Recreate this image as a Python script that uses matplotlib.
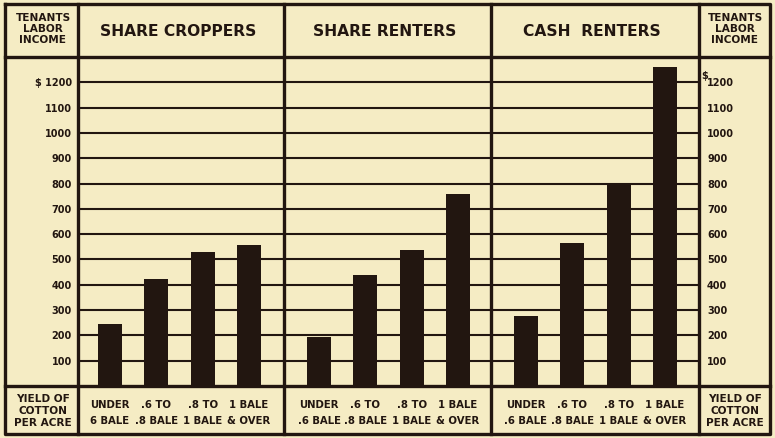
import matplotlib
matplotlib.use("Agg")
import matplotlib.pyplot as plt
from matplotlib.lines import Line2D

# data
panels = ["SHARE CROPPERS", "SHARE RENTERS", "CASH  RENTERS"]
share_croppers = [244, 422, 531, 558]
share_renters = [195, 439, 538, 759]
cash_renters = [277, 564, 794, 1260]
cat_top = ["UNDER", ".6 TO", ".8 TO", "1 BALE"]
cat_bottom = [["6 BALE", ".8 BALE", "1 BALE", "& OVER"],
              [".6 BALE", ".8 BALE", "1 BALE", "& OVER"],
              [".6 BALE", ".8 BALE", "1 BALE", "& OVER"]]
yticks = [100, 200, 300, 400, 500, 600, 700, 800, 900, 1000, 1100, 1200]

bg = "#f5ecc4"
ink = "#221610"

plt.rcParams['font.family'] = ['DejaVu Sans']
plt.rcParams['font.weight'] = 'bold'

W, H = 775, 439
fig = plt.figure(figsize=(W / 100, H / 100), dpi=100)
fig.patch.set_facecolor(bg)

def fx(x):
    return x / W

def fy(y):
    return 1 - y / H

# layout in pixels
edges = [78, 284, 491, 699]
offsets = [32, 35, 35]
step = 46.3
top_y = 58
base_y = 387

values = [share_croppers, share_renters, cash_renters]
for i in range(3):
    L, R = edges[i], edges[i + 1]
    ax = fig.add_axes([fx(L), fy(base_y), fx(R) - fx(L), (base_y - top_y) / H])
    ax.set_facecolor("none")
    ax.set_xlim(-offsets[i] / step, (R - L - offsets[i]) / step)
    ax.set_ylim(0, 1300)
    ax.axis("off")
    x0, x1 = ax.get_xlim()
    ax.hlines(yticks, x0, x1, color=ink, lw=1.5, zorder=1)
    ax.bar(range(4), values[i], width=0.52, color=ink, zorder=2)
    # title
    fig.text(fx((L + R) / 2 - 3), fy(32), panels[i], ha="center", va="center",
             fontsize=11.2, color=ink)
    # category labels
    for k in range(4):
        xp = fx(L + offsets[i] + k * step)
        fig.text(xp, fy(405), cat_top[k], ha="center", va="center", fontsize=7.3, color=ink)
        fig.text(xp, fy(421), cat_bottom[i][k], ha="center", va="center", fontsize=7.3, color=ink)

# y tick labels, both sides
scale = (base_y - top_y) / 1300
for v in yticks:
    yp = fy(base_y - v * scale)
    lab = "$ 1200" if v == 1200 else str(v)
    fig.text(fx(72), yp, lab, ha="right", va="center", fontsize=7, color=ink)
    fig.text(fx(707), yp, str(v), ha="left", va="center", fontsize=7, color=ink)
fig.text(fx(701), fy(76), "$", ha="left", va="center", fontsize=7, color=ink)

# side header / footer labels
for cx in [43, 735]:
    fig.text(fx(cx), fy(29), "TENANTS\nLABOR\nINCOME", ha="center", va="center",
             fontsize=7.6, color=ink, linespacing=1.15)
    fig.text(fx(cx), fy(411), "YIELD OF\nCOTTON\nPER ACRE", ha="center", va="center",
             fontsize=7.6, color=ink, linespacing=1.3)

# frame lines
def line(xs, ys, lw=2.4):
    fig.add_artist(Line2D([fx(x) for x in xs], [fy(y) for y in ys],
                          color=ink, lw=lw, transform=fig.transFigure))

line([5, 770, 770, 5, 5], [5, 5, 435, 435, 5])
line([5, 770], [top_y, top_y])
line([5, 770], [base_y, base_y])
for e in edges:
    line([e, e], [5, 435])

fig.savefig("out.png", dpi=100, facecolor=bg)
